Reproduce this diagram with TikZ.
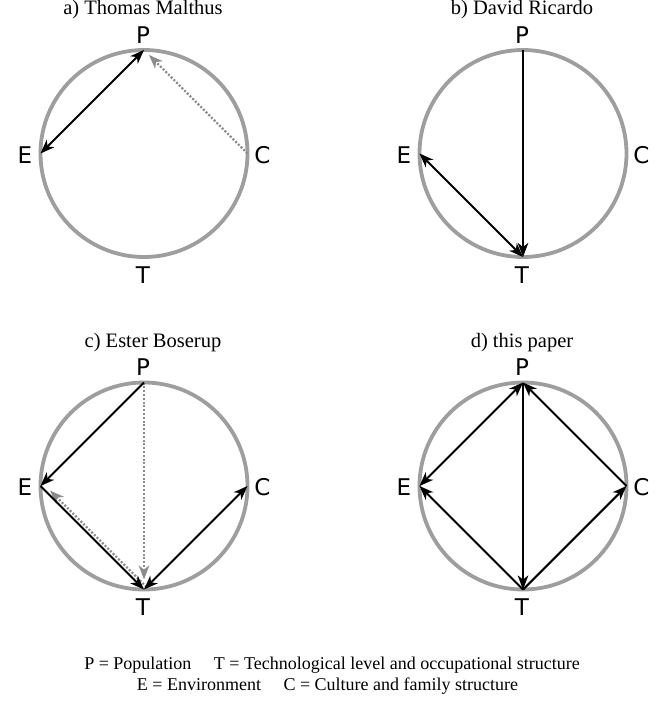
\documentclass[tikz,border=0pt]{standalone}
\usepackage{fontspec}
\setmainfont{Liberation Serif}
\newfontfamily\pointfont{DejaVu Sans}
\usetikzlibrary{arrows.meta}

\definecolor{ringgray}{gray}{0.62}
\definecolor{hintgray}{gray}{0.55}

\tikzset{
    ring/.style={draw=ringgray, line width=3.8pt},
    link/.style={line width=2.1pt, >={Stealth[length=14pt,width=10.5pt,inset=4pt]}},
    hint/.style={draw=hintgray, line width=2.2pt, dash pattern=on 2pt off 1.8pt,
        -{Stealth[length=14pt,width=10.5pt,inset=4pt,fill=hintgray]}},
    point/.style={font=\pointfont\fontsize{23}{25}\selectfont, inner sep=0pt},
    heading/.style={font=\fontsize{20.5}{23}\selectfont, anchor=base},
    legend/.style={font=\fontsize{18}{21}\selectfont, anchor=base}
}

\begin{document}
\begin{tikzpicture}[x=1pt,y=-1pt]

    % Page frame
    \useasboundingbox (0,0) rectangle (665,709);

    % Circle, points, letters and heading of each panel
    \foreach \p/\cx/\cy/\hx/\name in {
        a/144/153.5/143/{a) Thomas Malthus},
        b/523/153.5/522/{b) David Ricardo},
        c/144/486/153/{c) Ester Boserup},
        d/523/486/522/{d) this paper}
    }
    {
        \draw[ring] (\cx,\cy) circle[radius=103.5];
        \coordinate (\p P) at (\cx,\cy-103.5);
        \coordinate (\p E) at (\cx-103.5,\cy);
        \coordinate (\p C) at (\cx+103.5,\cy);
        \coordinate (\p T) at (\cx,\cy+103.5);
        \node[point] (\p Pl) at (\cx-1,\cy-118.5) {P};
        \node[point] (\p El) at (\cx-119,\cy+1.5) {E};
        \node[point] (\p Cl) at (\cx+118.5,\cy+1.5) {C};
        \node[point] (\p Tl) at (\cx-1,\cy+121.5) {T};
        \node[heading] (\p h) at (\hx,\cy-138.5) {\name};
    }

    % a) Thomas Malthus
    \draw[link,<->] (aE) -- (aP);
    \draw[hint,shorten >=7pt] (aC) -- (aP);

    % b) David Ricardo
    \draw[link,->] (bP) -- (bT);
    \draw[link,<->] (bE) -- (bT);

    % c) Ester Boserup
    \draw[hint,shorten >=10pt] (cP) -- (cT);
    \draw[hint,shorten >=10pt] ([xshift=2.5pt,yshift=2.5pt]cT) -- ([xshift=2.5pt,yshift=2.5pt]cE);
    \draw[link,->] (cP) -- (cE);
    \draw[link,->] (cE) -- (cT);
    \draw[link,<->] (cT) -- (cC);

    % d) this paper
    \draw[link,<->] (dE) -- (dP);
    \draw[link,->] (dP) -- (dT);
    \draw[link,->] (dC) -- (dP);
    \draw[link,->] (dT) -- (dE);
    \draw[link,->] (dT) -- (dC);

    % Legend
    \node[legend] (key1) at (332,669) {P = Population\quad\ T = Technological level and occupational structure};
    \node[legend] (key2) at (327.5,690) {E = Environment\quad\ C = Culture and family structure};

\end{tikzpicture}
\end{document}
